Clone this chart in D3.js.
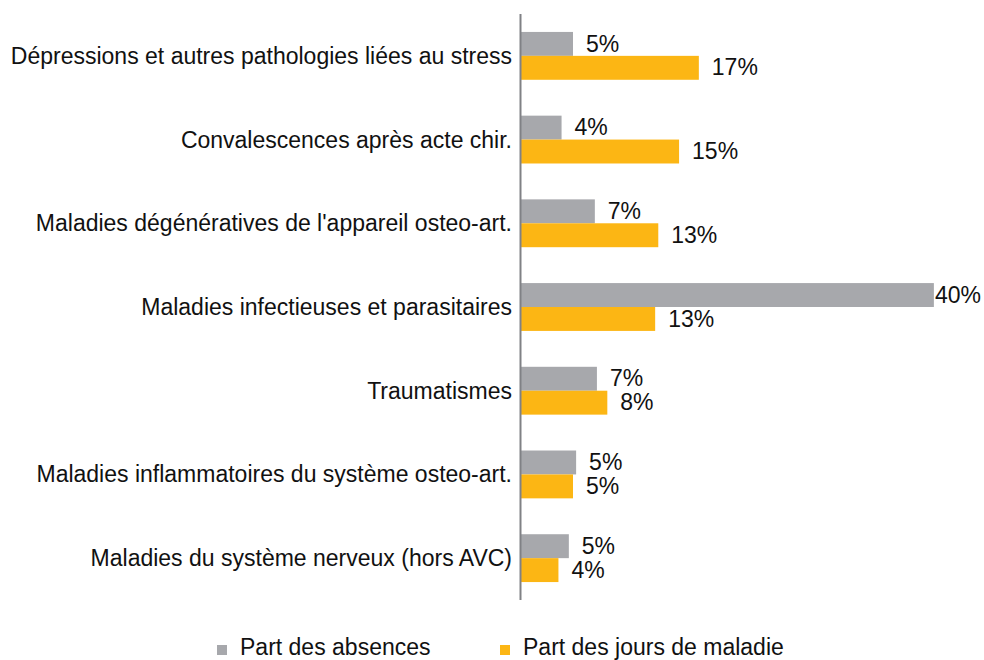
<!DOCTYPE html>
<html>
<head>
<meta charset="utf-8">
<script src="https://cdn.jsdelivr.net/npm/d3@7"></script>
<style>
  body { margin: 0; background: #fff; }
  text { font-family: "Liberation Sans", Arial, sans-serif; fill: #111; }
</style>
</head>
<body>
<svg id="chart" width="984" height="660"></svg>
<script>
// categories, top to bottom
const categories = [
  "Dépressions et autres pathologies liées au stress",
  "Convalescences après acte chir.",
  "Maladies dégénératives de l'appareil osteo-art.",
  "Maladies infectieuses et parasitaires",
  "Traumatismes",
  "Maladies inflammatoires du système osteo-art.",
  "Maladies du système nerveux (hors AVC)"
];
const seriesNames = ["Part des absences", "Part des jours de maladie"];
const absences = [5.0, 3.9, 7.1, 39.7, 7.3, 5.3, 4.6];
const joursMaladie = [17.1, 15.2, 13.2, 12.9, 8.3, 5.0, 3.6];
const colors = ["#a7a8ac", "#fcb614"];

const svg = d3.select("#chart"),
  width = +svg.attr("width"),
  height = +svg.attr("height");

const x0 = 521;
const x = d3.scaleLinear().domain([0, 40]).range([x0, x0 + 416]);

const y = d3.scaleBand()
  .domain(categories)
  .range([14, 600])
  .paddingInner(36 / 84)
  .paddingOuter(18 / 84);

const ySub = d3.scaleBand()
  .domain(seriesNames)
  .range([0, y.bandwidth()]);

const rows = categories.map((c, i) => ({
  cat: c,
  vals: [
    { key: seriesNames[0], v: absences[i], col: colors[0] },
    { key: seriesNames[1], v: joursMaladie[i], col: colors[1] }
  ]
}));

const g = svg.append("g");

const row = g.selectAll("g.row")
  .data(rows)
  .enter().append("g")
    .attr("class", "row")
    .attr("transform", d => `translate(0,${y(d.cat)})`);

row.selectAll("rect")
  .data(d => d.vals)
  .enter().append("rect")
    .attr("x", x(0))
    .attr("y", d => ySub(d.key))
    .attr("width", d => x(d.v) - x(0))
    .attr("height", ySub.bandwidth())
    .attr("fill", d => d.col);

// value labels (pulled back inside when they would run past the edge)
row.selectAll("text.val")
  .data(d => d.vals)
  .enter().append("text")
    .attr("class", "val")
    .attr("y", d => ySub(d.key) + ySub.bandwidth() / 2)
    .attr("dy", "0.33em")
    .style("font-size", "23px")
    .text(d => Math.round(d.v) + "%")
    .each(function(d) {
      let px = x(d.v) + 13;
      const w = this.getComputedTextLength();
      if (px + w > width - 3) px = width - 3 - w;
      d3.select(this).attr("x", px);
    });

// category labels
g.selectAll("text.cat")
  .data(categories)
  .enter().append("text")
    .attr("class", "cat")
    .attr("x", 512)
    .attr("y", d => y(d) + y.bandwidth() / 2)
    .attr("dy", "0.35em")
    .attr("text-anchor", "end")
    .style("font-size", "23px")
    .text(d => d);

// vertical axis line
svg.append("line")
  .attr("x1", 520.5).attr("x2", 520.5)
  .attr("y1", 14).attr("y2", 600)
  .attr("stroke", "#808185")
  .attr("stroke-width", 2);

// legend
const legendX = [217, 500];
const legend = svg.selectAll("g.legend")
  .data(seriesNames)
  .enter().append("g")
    .attr("class", "legend")
    .attr("transform", (d, i) => `translate(${legendX[i]},645)`);

legend.append("rect")
  .attr("width", 10).attr("height", 10)
  .attr("fill", (d, i) => colors[i]);

legend.append("text")
  .attr("x", 23)
  .attr("y", 10)
  .style("font-size", "23px")
  .text(d => d);
</script>
</body>
</html>
